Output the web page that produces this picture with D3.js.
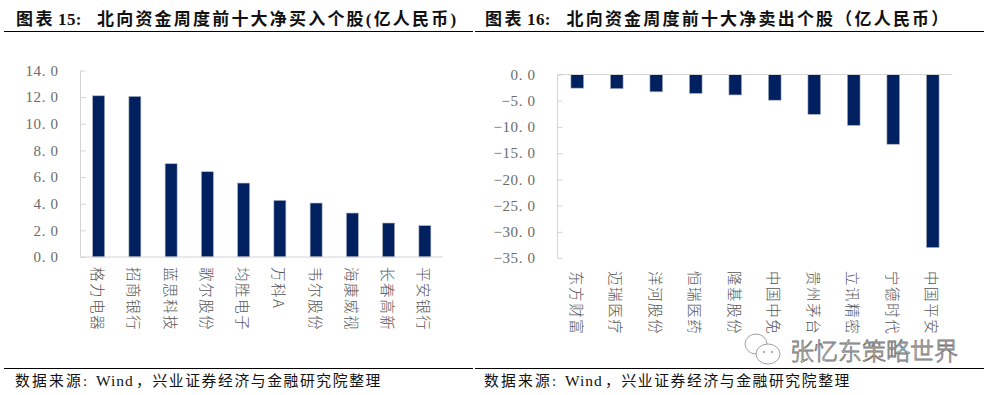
<!DOCTYPE html>
<html>
<head>
<meta charset="utf-8">
<script src="https://cdn.jsdelivr.net/npm/d3@7"></script>
<style>
body { margin: 0; background: #fff; }
svg { display: block; }
.title { font-family: "Liberation Serif", "Noto Sans CJK SC", serif; font-size: 17px; font-weight: bold; fill: #111; }
.source { font-family: "Liberation Serif", "Noto Sans CJK SC", serif; font-size: 14.8px; fill: #111; }
.axis text { font-family: "Liberation Serif", serif; font-size: 15px; letter-spacing: 0.6px; fill: #6b6b6b; }
.cat { font-family: "Noto Sans CJK SC", sans-serif; font-size: 14.5px; font-weight: 300; fill: #555; }
.mark { font-family: "Noto Sans CJK SC", sans-serif; font-size: 24px; font-weight: 300; fill: #fff; stroke: #777; stroke-width: 0.8px; }
</style>
</head>
<body>
<svg id="chart" width="990" height="395"></svg>
<script>
const buyNames = ['格力电器', '招商银行', '蓝思科技', '歌尔股份', '均胜电子', '万科A', '韦尔股份', '海康威视', '长春高新', '平安银行'];
const buyValues = [12.1, 12.05, 7.0, 6.4, 5.55, 4.25, 4.05, 3.3, 2.55, 2.35];
const buyTicks = [0, 2, 4, 6, 8, 10, 12, 14];

const sellNames = ['东方财富', '迈瑞医疗', '洋河股份', '恒瑞医药', '隆基股份', '中国中免', '贵州茅台', '立讯精密', '宁德时代', '中国平安'];
const sellValues = [-2.6, -2.7, -3.3, -3.6, -3.9, -4.9, -7.6, -9.7, -13.3, -33];
const sellTicks = [0, -5, -10, -15, -20, -25, -30, -35];

const barColor = '#002060';
const axisColor = '#d4d4d4';

const svg = d3.select('#chart');

const fmt = d => d.toFixed(1).replace('.', '. ').replace('-', '−');

const drawPanel = (names, values, ticks, box) => {
    const x = d3.scaleBand()
        .domain(names)
        .range([box.left, box.right])
        .paddingInner(box.padding)
        .paddingOuter(box.padding / 2);
    const y = d3.scaleLinear().domain(box.domain).range([box.top, box.bottom]);
    const g = svg.append('g');

    g.selectAll('rect')
        .data(values)
        .enter()
        .append('rect')
        .attr('x', (d, i) => x(names[i]))
        .attr('width', x.bandwidth())
        .attr('y', d => y(Math.max(0, d)))
        .attr('height', d => Math.abs(y(d) - y(0)))
        .attr('fill', barColor)
        .attr('stroke', '#a9aec0')
        .attr('stroke-width', 0.6);

    const yAxis = g.append('g')
        .attr('class', 'axis')
        .attr('transform', `translate(${box.left},0)`)
        .call(d3.axisLeft(y).tickValues(ticks).tickFormat(fmt).tickSize(-5).tickPadding(22));
    // tick marks sit inside the plot in the original
    yAxis.selectAll('line').attr('stroke', axisColor);
    yAxis.select('.domain').attr('stroke', axisColor).attr('d', `M${0},${box.top}V${box.bottom}`);

    g.append('line')
        .attr('x1', box.left).attr('x2', box.right)
        .attr('y1', y(0)).attr('y2', y(0))
        .attr('stroke', axisColor)
        .attr('stroke-width', 1);

    g.selectAll('.cat')
        .data(names)
        .enter()
        .append('text')
        .attr('class', 'cat')
        .attr('text-anchor', 'start')
        .attr('dominant-baseline', 'central')
        .attr('transform', d => `translate(${x(d) + x.bandwidth() / 2},${box.labelY}) rotate(90)`)
        .attr('letter-spacing', 1.6)
        .text(d => d);
};

drawPanel(buyNames, buyValues, buyTicks, {
    left: 80.5, right: 443, top: 70.5, bottom: 257, domain: [14, 0], padding: 0.67, labelY: 267
});
drawPanel(sellNames, sellValues, sellTicks, {
    left: 557.5, right: 952.5, top: 74.5, bottom: 258, domain: [0, -35], padding: 0.68, labelY: 271
});

const titleParts = [
    { text: '图表', x: 16, spacing: 2.4 },
    { text: '15:', x: 58, spacing: 0.4 },
    { text: '北向资金周度前十大净买入个股(亿人民币)', x: 97, spacing: 2.2 },
    { text: '图表', x: 485, spacing: 2.4 },
    { text: '16:', x: 527, spacing: 0.4 },
    { text: '北向资金周度前十大净卖出个股（亿人民币）', x: 566.5, spacing: 2.2 }
];
svg.selectAll('.title')
    .data(titleParts)
    .enter()
    .append('text')
    .attr('class', 'title')
    .attr('x', d => d.x)
    .attr('y', 25)
    .attr('letter-spacing', d => d.spacing)
    .text(d => d.text);

const rules = [[4, 473], [475, 984]];
rules.forEach(r => {
    [31.5, 368.5].forEach(yy => {
        svg.append('line')
            .attr('x1', r[0]).attr('x2', r[1])
            .attr('y1', yy).attr('y2', yy)
            .attr('stroke', '#000')
            .attr('stroke-width', 1);
    });
});

const sourceParts = [
    { text: '数据来源:', dx: 0, spacing: 2.2, size: 14.8 },
    { text: 'Wind', dx: 81, spacing: 1, size: 15.5 },
    { text: '，兴业证券经济与金融研究院整理', dx: 121, spacing: 1.6, size: 14.8 }
];
[15, 484].forEach(x0 => {
    svg.append('g')
        .selectAll('text')
        .data(sourceParts)
        .enter()
        .append('text')
        .attr('class', 'source')
        .attr('x', d => x0 + d.dx)
        .attr('y', 386)
        .attr('letter-spacing', d => d.spacing)
        .style('font-size', d => `${d.size}px`)
        .text(d => d.text);
});

// watermark
const wm = svg.append('g').attr('fill', '#fff').attr('stroke', '#8a8a8a').attr('stroke-width', 0.8);
wm.append('ellipse').attr('cx', 756).attr('cy', 344).attr('rx', 11).attr('ry', 10);
wm.append('ellipse').attr('cx', 768).attr('cy', 354).attr('rx', 12).attr('ry', 10);
wm.append('circle').attr('cx', 764).attr('cy', 352).attr('r', 0.8);
wm.append('circle').attr('cx', 772).attr('cy', 352).attr('r', 0.8);
svg.append('text')
    .attr('class', 'mark')
    .attr('x', 790)
    .attr('y', 360)
    .text('张忆东策略世界');
</script>
</body>
</html>
